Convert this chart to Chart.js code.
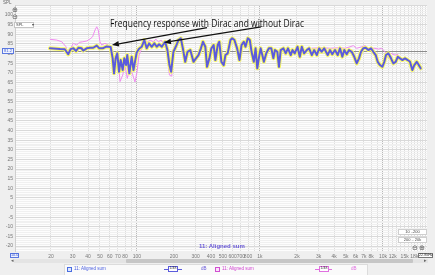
<!DOCTYPE html>
<html>
<head>
<meta charset="utf-8">
<script src="https://cdn.jsdelivr.net/npm/chart.js@4.4.1/dist/chart.umd.min.js"></script>
<style>
html, body { margin: 0; padding: 0; background: #efefef; }
#wrap { position: relative; width: 435px; height: 275px; overflow: hidden; font-family: "Liberation Sans", Arial, sans-serif; }
#chart { position: absolute; left: 0; top: 0; }
.t { position: absolute; white-space: nowrap; line-height: 1; }
.box { position: absolute; box-sizing: border-box; white-space: nowrap; line-height: 1; text-align: center; }
</style>
</head>
<body>
<div id="wrap">
<canvas id="chart" width="435" height="275"></canvas>

<div class="t" style="left:3px;top:1px;font-size:4.5px;color:#666">SPL</div>
<div class="t" style="left:12px;top:7px;font-size:7px;color:#555;font-family:'DejaVu Sans'">⊕</div>
<div class="t" style="left:12px;top:14px;font-size:7px;color:#555;font-family:'DejaVu Sans'">⊖</div>
<div class="box" style="left:14px;top:22px;width:20px;height:6px;background:#fff;border:1px solid #c4c4c4;font-size:4px;color:#444;text-align:left;padding-left:1px">SPL <span style="margin-left:7px">▾</span></div>
<div class="box" style="left:2px;top:48px;width:12px;height:6px;background:#eef2ff;border:1px solid #5b78e0;font-size:4px;color:#3a5ad0">81.2</div>
<div class="box" style="left:10px;top:252.5px;width:9px;height:5.5px;background:#eef2ff;border:1px solid #5b78e0;font-size:3.8px;color:#3a5ad0">10.0</div>
<div class="box" style="left:418px;top:252.5px;width:15px;height:5.5px;background:#fff;border:1px solid #777;font-size:3.8px;color:#333">22.8kHz</div>

<div id="note" class="t" style="left:110px;top:18px;font-size:10px;color:#111;font-family:'Open Sans',sans-serif;transform-origin:0 0">Frequency response with Dirac and without Dirac</div>

<div class="t" style="left:199px;top:242.5px;font-size:6px;font-weight:bold;color:#6a5ad8">11: Aligned sum</div>

<div class="box" style="left:398px;top:229px;width:29px;height:6px;background:#fff;border:1px solid #cfcfcf;font-size:4px;color:#444">10 ..200</div>
<div class="box" style="left:398px;top:237px;width:29px;height:6px;background:#fff;border:1px solid #cfcfcf;font-size:4px;color:#444">200 .. 20k</div>
<div class="t" style="left:412px;top:244.5px;font-size:7px;color:#555;font-family:'DejaVu Sans'">⊖</div>
<div class="t" style="left:419px;top:244.5px;font-size:7px;color:#555;font-family:'DejaVu Sans'">⊕</div>

<div style="position:absolute;left:14px;top:259px;width:414px;height:4px;background:#e4e4e4"></div>
<div style="position:absolute;left:126px;top:259px;width:287px;height:4px;background:#c6c6c6;border-radius:1px"></div>
<div class="t" style="left:11px;top:258px;font-size:5px;color:#666;font-family:'DejaVu Sans'">◂</div>
<div class="t" style="left:424px;top:258px;font-size:5px;color:#666;font-family:'DejaVu Sans'">▸</div>

<div style="position:absolute;left:64px;top:264px;width:304px;height:12px;background:#fafafa;border:1px solid #dcdcdc;box-sizing:border-box"></div>
<div class="box" style="left:67px;top:266.5px;width:5px;height:5px;background:#dde6ff;border:1px solid #4a6ee0"></div>
<div class="t" style="left:74px;top:267px;font-size:4.5px;color:#4a5ee0">11: Aligned sum</div>
<div style="position:absolute;left:164px;top:268.5px;width:18px;height:1px;background:#5b5bdc"></div>
<div class="box" style="left:168px;top:266px;width:10px;height:5.5px;background:#fff;border:1px solid #5b5bdc;font-size:3.5px;color:#333">1/48</div>
<div class="t" style="left:201px;top:267px;font-size:4.5px;color:#6a5ad8">dB</div>
<div class="box" style="left:215px;top:266.5px;width:5px;height:5px;background:#fde0fd;border:1px solid #d050d0"></div>
<div class="t" style="left:222px;top:267px;font-size:4.5px;color:#d040d0">11: Aligned sum</div>
<div style="position:absolute;left:315px;top:268.5px;width:17px;height:1px;background:#e070e0"></div>
<div class="box" style="left:319px;top:266px;width:10px;height:5.5px;background:#fff;border:1px solid #e070e0;font-size:3.5px;color:#333">1/48</div>
<div class="t" style="left:351px;top:267px;font-size:4.5px;color:#e070e0">dB</div>
</div>

<script>
// reference level line (dB)
const refLevel = 81.2

// 11: Aligned sum, with Dirac (selected trace)
const blueFreq = [19.6, 23.7, 25.9, 27.6, 28.9, 30.4, 32.0, 33.4, 35.5, 36.6, 39.0, 41.5, 44.1, 47.1, 49.5, 52.7, 56.7, 61.1, 63.5, 65.1,
    67.1, 69.2, 71.5, 73.7, 76.6, 78.9, 81.5, 83.4, 86.7, 90.6, 93.7, 99.5, 104, 109.3, 114.8, 120, 125.4, 131.9, 138.5, 144.9,
    151.3, 159.2, 169.4, 176.9, 183.7, 189.6, 197.9, 206.7, 217.5, 227.3, 236.2, 246.9, 257.7, 271.4, 288.1, 301.8, 316.5, 331.2, 343.9, 359.6,
    371.3, 388, 402.7, 420.3, 434, 453.5, 467.3, 485.9, 507.4, 524, 546.6, 575.9, 594.5, 619.9, 652, 681.5, 707.9, 739.1, 762.6, 796.8,
    827.1, 854.4, 891.5, 920.8, 951.1, 979.5, 1012, 1045, 1076, 1126, 1182, 1237, 1285, 1324, 1385, 1427, 1474, 1551, 1619, 1690,
    1779, 1838, 1918, 2019, 2107, 2188, 2285, 2404, 2510, 2641, 2757, 2900, 3029, 3168, 3327, 3553, 3709, 3872, 4074, 4284,
    4473, 4671, 4849, 5071, 5295, 5569, 5847, 6116, 6385, 6628, 6918, 7237, 7599, 7993, 8345, 8728, 9062, 9460, 9875, 10252,
    10582, 11052, 11626, 12135, 12691, 13180, 13754, 14364, 15108, 15887, 16590, 17314, 17979, 18806, 19377, 20256]
const blueSpl = [82.7, 82.3, 82.2, 79.6, 82.3, 82.7, 81.3, 83.0, 82.7, 81.5, 82.7, 83.0, 83.0, 84.1, 82.7, 82.7, 83.7, 83.4, 77.5, 69.7,
    77.5, 80.1, 70.5, 76.6, 71.4, 77.5, 74.0, 79.2, 69.7, 78.3, 71.4, 80.5, 82.5, 83.5, 87.0, 82.7, 85.3, 83.5, 85.3, 83.5,
    84.8, 83.5, 86.1, 81.8, 74.0, 70.5, 80.9, 83.5, 87.0, 87.9, 82.7, 75.7, 80.9, 81.8, 75.7, 77.5, 79.2, 82.7, 86.1, 83.5,
    73.1, 77.5, 82.7, 84.4, 76.6, 84.4, 86.1, 75.7, 74.0, 79.2, 80.1, 87.0, 87.9, 87.0, 82.7, 76.6, 84.4, 86.1, 83.5, 87.9,
    87.0, 80.9, 75.7, 82.7, 72.3, 77.5, 82.7, 79.2, 75.7, 80.1, 82.7, 82.7, 77.5, 81.8, 80.9, 73.1, 81.8, 82.7, 80.1, 82.7,
    79.2, 81.8, 80.1, 83.5, 78.3, 83.5, 80.1, 81.8, 82.7, 79.2, 81.8, 79.2, 82.7, 80.9, 82.7, 79.2, 81.8, 79.6, 81.8, 79.2,
    82.7, 78.3, 81.8, 79.6, 81.8, 80.9, 78.3, 74.9, 77.5, 80.9, 82.7, 83.0, 81.8, 82.7, 80.9, 79.2, 75.7, 74.0, 73.1, 75.7,
    79.2, 80.1, 77.5, 74.9, 75.7, 78.3, 77.5, 76.6, 77.5, 76.6, 75.7, 71.4, 74.0, 75.7, 74.4, 72.3]

// 11: Aligned sum, without Dirac (only where it shows beside the other trace; null = hidden stretch)
const pinkFreq = [19.6, 22.3, 24.5, 26.5, 27.6, 28.9, 30.4, 32.4, 34.0, 36.2, 39.0, 41.5, 43.6, 45.6, 47.1, 48.5, 50.0, 51.7, 55.0, 58.5,
    61.1, 64.2, 67.5, 70.5, 72.8, 76.6, 80.0, 83.4, 87.8, 92.0, 96.4, 100.1, 104, 110.5, 116.2, 122.3, 127.7, 135.9, 142.2, 149.4,
    157.1, 164.1, 174.9, 183.7, 189.6, 192.1, 198.1, 206.7, 1000,
    2634, 3176, 3710, 4474, 4912, 5394, 5738, 6116, 6714, 7143, 7598, 8614, 9162, 9762, 10388, 11050, 11622, 12522, 13322]
const pinkSpl = [87.4, 87.0, 86.1, 83.5, 79.2, 82.7, 85.3, 84.4, 85.8, 86.1, 86.5, 87.5, 88.7, 92.2, 93.9, 92.2, 86.1, 84.4, 85.3, 84.4,
    80.9, 75.7, 72.3, 77.5, 65.4, 68.8, 74.0, 67.1, 72.5, 69.3, 65.2, 70.4, 79.2, 83.5, 86.1, 86.1, 87.0, 86.1, 87.5, 86.1,
    87.0, 85.3, 80.9, 68.8, 68.3, 74.0, 82.7, 83.5, null,
    82.7, 83.0, 82.7, 83.0, 82.7, 83.5, 84.1, 82.7, 83.5, 84.1, 82.7, 82.7, 82.3, 82.7, 80.9, 77.5, 80.1, 79.2, 79.6]

// axes
const xMin = 10.2, xMax = 22800
const yMin = -23, yMax = 105
const xGridValues = [20, 30, 40, 50, 60, 70, 80, 90, 100, 200, 300, 400, 500, 600, 700, 800, 900, 1000,
    2000, 3000, 4000, 5000, 6000, 7000, 8000, 9000, 10000, 11000, 12000, 13000, 14000, 15000, 16000, 17000, 18000, 19000, 20000, 21000, 22000]
const xTickValues = [20, 30, 40, 50, 60, 70, 80, 100, 200, 300, 400, 500, 600, 700, 800, 1000,
    2000, 3000, 4000, 5000, 6000, 7000, 8000, 10000, 12000, 15000, 18000]
const xTickLabels = ['20', '30', '40', '50', '60', '70', '80', '100', '200', '300', '400', '500', '600', '700', '800', '1k',
    '2k', '3k', '4k', '5k', '6k', '7k', '8k', '10k', '12k', '15k', '18k']
const xMajorGrid = [100, 1000, 10000]

// annotation arrows: [freq, dB] tail -> head
const arrowTails = [[371, 93.5], [1019, 93.8]]
const arrowHeads = [[62.6, 84.4], [165.9, 85.7]]

const toPoints = (fs, ys) => fs.map((f, i) => ({ x: f, y: ys[i] }))

const plotBg = {
    id: 'plotBg',
    beforeDraw(chart) {
        const { ctx, chartArea: a } = chart
        ctx.save()
        ctx.fillStyle = '#fdfdfd'
        ctx.fillRect(a.left, a.top, a.right - a.left, a.bottom - a.top)
        ctx.restore()
    }
}

const refLine = {
    id: 'refLine',
    beforeDatasetsDraw(chart) {
        const { ctx, chartArea: a, scales } = chart
        const y = Math.round(scales.y.getPixelForValue(refLevel)) + 0.5
        ctx.save()
        ctx.strokeStyle = '#8c8c8c'
        ctx.lineWidth = 1
        ctx.beginPath()
        ctx.moveTo(a.left, y)
        ctx.lineTo(a.right, y)
        ctx.stroke()
        ctx.restore()
    }
}

const arrows = {
    id: 'arrows',
    afterDatasetsDraw(chart) {
        const { ctx, scales } = chart
        ctx.save()
        ctx.strokeStyle = '#111'
        ctx.fillStyle = '#111'
        ctx.lineWidth = 1.3
        arrowTails.forEach((t, i) => {
            const h = arrowHeads[i]
            const x1 = scales.x.getPixelForValue(t[0]), y1 = scales.y.getPixelForValue(t[1])
            const x2 = scales.x.getPixelForValue(h[0]), y2 = scales.y.getPixelForValue(h[1])
            const ang = Math.atan2(y2 - y1, x2 - x1)
            const len = 7, half = 2.8
            const bx = x2 - len * Math.cos(ang), by = y2 - len * Math.sin(ang)
            ctx.beginPath()
            ctx.moveTo(x1, y1)
            ctx.lineTo(bx, by)
            ctx.stroke()
            ctx.beginPath()
            ctx.moveTo(x2, y2)
            ctx.lineTo(bx + half * Math.sin(ang), by - half * Math.cos(ang))
            ctx.lineTo(bx - half * Math.sin(ang), by + half * Math.cos(ang))
            ctx.closePath()
            ctx.fill()
        })
        ctx.restore()
    }
}

const chart = new Chart(document.getElementById('chart'), {
    type: 'line',
    data: {
        datasets: [
            {
                label: 'with Dirac',
                data: toPoints(blueFreq, blueSpl),
                borderColor: '#5b5bdc',
                borderWidth: 2,
                borderJoinStyle: 'round',
                borderCapStyle: 'round',
                pointRadius: 0,
                tension: 0,
                order: 0
            },
            {
                label: 'selected glow',
                data: toPoints(blueFreq, blueSpl),
                borderColor: '#f7f765',
                borderWidth: 4,
                borderJoinStyle: 'round',
                borderCapStyle: 'round',
                pointRadius: 0,
                tension: 0,
                order: 1
            },
            {
                label: 'without Dirac',
                data: toPoints(pinkFreq, pinkSpl),
                borderColor: '#f08cf0',
                borderWidth: 1,
                borderJoinStyle: 'round',
                pointRadius: 0,
                tension: 0,
                spanGaps: false,
                order: 2
            }
        ]
    },
    options: {
        responsive: false,
        animation: false,
        devicePixelRatio: 1,
        layout: { padding: { left: 0, top: 5.4, right: 8, bottom: 14.2 } },
        plugins: { legend: { display: false }, tooltip: { enabled: false } },
        scales: {
            x: {
                type: 'logarithmic',
                min: xMin,
                max: xMax,
                afterBuildTicks: (scale) => { scale.ticks = xGridValues.map(v => ({ value: v })) },
                afterFit: (scale) => { scale.height = 9 },
                grid: {
                    drawTicks: false,
                    color: (c) => xMajorGrid.includes(c.tick.value) ? '#b9b9b9' : '#dedede'
                },
                border: { display: false },
                ticks: {
                    autoSkip: false,
                    maxRotation: 0,
                    minRotation: 0,
                    padding: 1.5,
                    color: '#777',
                    font: { family: 'Liberation Sans', size: 5 },
                    callback: (v) => {
                        const i = xTickValues.indexOf(v)
                        return i < 0 ? '' : xTickLabels[i]
                    }
                }
            },
            y: {
                min: yMin,
                max: yMax,
                afterBuildTicks: (scale) => {
                    const t = []
                    for (let v = yMin; v <= yMax; v++) t.push({ value: v })
                    scale.ticks = t
                },
                afterFit: (scale) => { scale.width = 15 },
                grid: {
                    drawTicks: false,
                    color: (c) => c.tick.value % 5 === 0 ? '#d9d9d9' : '#f0f0f0'
                },
                border: { display: true, color: '#cfcfcf' },
                ticks: {
                    autoSkip: false,
                    padding: 2,
                    color: '#777',
                    font: { family: 'Liberation Sans', size: 5 },
                    callback: (v) => (v % 5 === 0 && v >= -20 && v <= 100) ? String(v) : ''
                }
            }
        }
    },
    plugins: [plotBg, refLine, arrows]
})

// squeeze annotation text to its width in the picture
const note = document.getElementById('note')
const w = note.getBoundingClientRect().width
note.style.transform = 'scaleX(' + (194 / w) + ')'
</script>
</body>
</html>
